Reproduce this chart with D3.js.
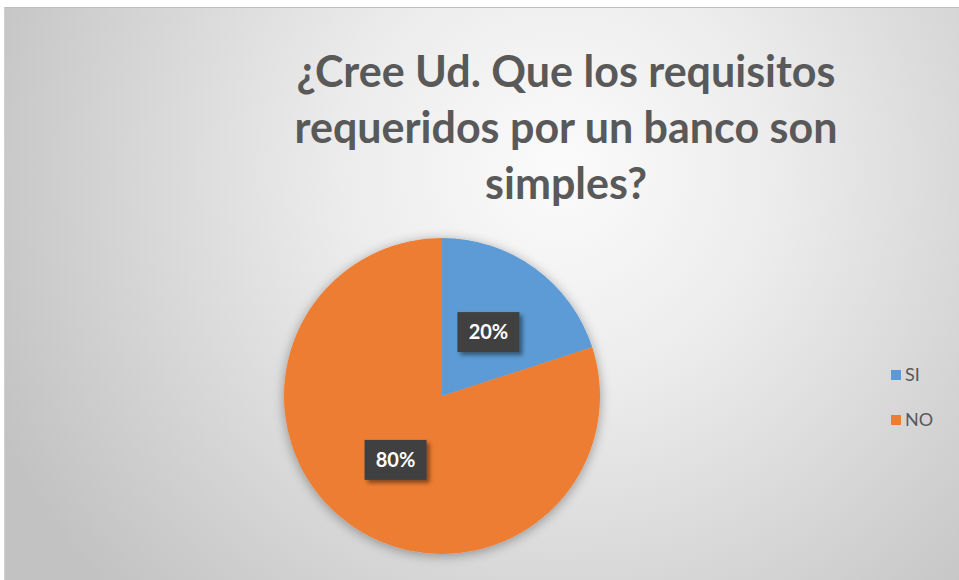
<!DOCTYPE html>
<html>
<head>
<meta charset="utf-8">
<script src="https://cdn.jsdelivr.net/npm/d3@7"></script>
<style>
  html, body { margin: 0; padding: 0; background: #fff; }
  svg { display: block; }
</style>
</head>
<body>
<svg id="chart"></svg>
<script>
// Chart data
const categories = ['SI', 'NO'];
const values = [20, 80];
const colors = ['#5B9BD5', '#ED7D31'];
const titleLines = ['¿Cree Ud. Que los requisitos', 'requeridos por un banco son', 'simples?'];

const width = 959, height = 580;
const svg = d3.select('#chart').attr('width', width).attr('height', height);

// Background gradient (light center, gray edges)
const defs = svg.append('defs');
const grad = defs.append('radialGradient')
    .attr('id', 'bg')
    .attr('gradientUnits', 'userSpaceOnUse')
    .attr('cx', 560).attr('cy', 170).attr('r', 620);
grad.append('stop').attr('offset', '0%').attr('stop-color', '#fbfbfb');
grad.append('stop').attr('offset', '35%').attr('stop-color', '#ececec');
grad.append('stop').attr('offset', '100%').attr('stop-color', '#c2c2c2');

const shadow = defs.append('filter').attr('id', 'pieShadow')
    .attr('x', '-20%').attr('y', '-20%').attr('width', '140%').attr('height', '140%');
shadow.append('feGaussianBlur').attr('in', 'SourceAlpha').attr('stdDeviation', 6);
shadow.append('feOffset').attr('dx', 0).attr('dy', 2).attr('result', 'b');
shadow.append('feComponentTransfer').append('feFuncA').attr('type', 'linear').attr('slope', 0.35);
const m = shadow.append('feMerge');
m.append('feMergeNode');
m.append('feMergeNode').attr('in', 'SourceGraphic');

const lblShadow = defs.append('filter').attr('id', 'lblShadow')
    .attr('x', '-30%').attr('y', '-30%').attr('width', '160%').attr('height', '160%');
lblShadow.append('feDropShadow').attr('dx', 3).attr('dy', 3).attr('stdDeviation', 2)
    .attr('flood-color', '#000').attr('flood-opacity', 0.45);

svg.append('rect')
    .attr('x', 4).attr('y', 7).attr('width', width - 4).attr('height', height - 7)
    .attr('fill', 'url(#bg)');
svg.append('line')
    .attr('x1', 4).attr('x2', width).attr('y1', 7.5).attr('y2', 7.5)
    .attr('stroke', '#bdbdbd').attr('stroke-width', 1);
svg.append('line')
    .attr('x1', 4.5).attr('x2', 4.5).attr('y1', 7).attr('y2', height)
    .attr('stroke', '#d0d0d0').attr('stroke-width', 1);

// Title
svg.append('g').selectAll('text')
    .data(titleLines)
    .join('text')
    .attr('x', 566)
    .attr('y', (d, i) => 87 + i * 56)
    .attr('text-anchor', 'middle')
    .style('font-family', 'Lato, "Open Sans", sans-serif')
    .style('font-weight', 'bold')
    .style('font-size', '43px')
    .style('fill', '#595959')
    .text(d => d);

// Pie
const cx = 442, cy = 396, radius = 158;
const pie = d3.pie().sort(null).value(d => d)(values);
const arc = d3.arc().innerRadius(0).outerRadius(radius);
const labelArc = d3.arc().innerRadius(radius * 0.5).outerRadius(radius * 0.5);

const g = svg.append('g').attr('transform', `translate(${cx},${cy})`);
g.append('g').attr('filter', 'url(#pieShadow)')
    .selectAll('path')
    .data(pie)
    .join('path')
    .attr('d', arc)
    .attr('fill', (d, i) => colors[i]);

// Data labels
const fmt = d => d3.format('.0%')(d / d3.sum(values));
const labels = g.selectAll('g.lbl')
    .data(pie)
    .join('g')
    .attr('class', 'lbl')
    .attr('transform', d => `translate(${labelArc.centroid(d)})`);
labels.append('rect')
    .attr('x', -31).attr('y', -20).attr('width', 62).attr('height', 40)
    .attr('fill', '#404040')
    .attr('filter', 'url(#lblShadow)');
labels.append('text')
    .attr('text-anchor', 'middle')
    .attr('dy', '0.35em')
    .style('font-family', 'Lato, "Open Sans", sans-serif')
    .style('font-weight', 'bold')
    .style('font-size', '20px')
    .style('fill', '#fff')
    .text(d => fmt(d.value));

// Legend
const legend = svg.append('g').attr('transform', 'translate(891,370)');
const item = legend.selectAll('g')
    .data(categories)
    .join('g')
    .attr('transform', (d, i) => `translate(0,${i * 45})`);
item.append('rect')
    .attr('width', 10).attr('height', 10)
    .attr('fill', (d, i) => colors[i]);
item.append('text')
    .attr('x', 14).attr('y', 11)
    .style('font-family', 'Lato, "Open Sans", sans-serif')
    .style('font-size', '18px')
    .style('fill', '#595959')
    .text(d => d);
</script>
</body>
</html>
